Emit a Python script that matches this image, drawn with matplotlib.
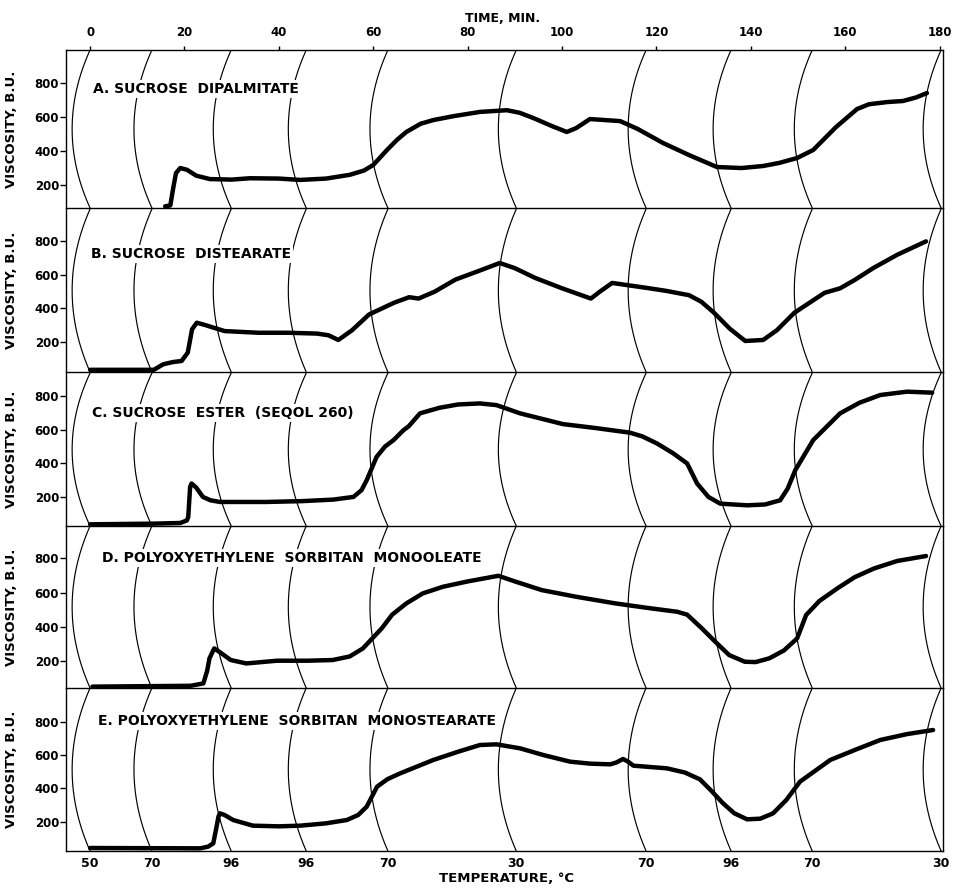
import numpy as np
import matplotlib
matplotlib.use("Agg")
import matplotlib.pyplot as plt

plt.rcParams["font.family"] = ["DejaVu Sans"]
plt.rcParams["font.weight"] = "bold"

# ---------------- data ----------------
TIME_TICKS = [0, 20, 40, 60, 80, 100, 120, 140, 160, 180]
ARC_TIMES = [0, 13.1, 29.9, 45.8, 63.1, 90.3, 117.8, 135.8, 153.0, 180.3]
TEMP_LABELS = ["50", "70", "96", "96", "70", "30", "70", "96", "70", "30"]
VISC_TICKS = [200, 400, 600, 800]

LABELS = [
    "A. SUCROSE  DIPALMITATE",
    "B. SUCROSE  DISTEARATE",
    "C. SUCROSE  ESTER  (SEQOL 260)",
    "D. POLYOXYETHYLENE  SORBITAN  MONOOLEATE",
    "E. POLYOXYETHYLENE  SORBITAN  MONOSTEARATE",
]

A_T = [15.9, 17.0, 17.6, 18.2, 19.1, 20.5, 22.5, 25.4, 30.0, 33.9, 40.0, 44.5, 50.0,
       55.0, 58.0, 60.0, 62.9, 65.0, 67.0, 70.0, 72.7, 77.0, 82.6, 88.3, 91.0, 93.9,
       98.0, 101.0, 103.0, 105.9, 112.3, 116.0, 121.4, 127.0, 132.8, 138.0, 142.6,
       146.0, 149.8, 153.2, 158.0, 162.5, 165.0, 168.9, 172.2, 175.0, 177.3]
A_V = [75, 80, 180, 270, 300, 290, 255, 235, 232, 240, 238, 230, 238,
       260, 285, 318, 406, 465, 512, 560, 582, 605, 630, 640, 625, 594,
       545, 512, 535, 588, 576, 530, 447, 375, 306, 300, 312,
       330, 359, 406, 540, 647, 675, 688, 694, 715, 741]

B_T = [0, 13.5, 15.5, 17.5, 19.4, 20.7, 21.6, 22.6, 24.5, 28.5, 35.7, 42.0, 48.1, 50.5,
       52.6, 55.5, 59.1, 64.4, 67.6, 69.6, 73.0, 77.4, 82.0, 86.8, 90.0, 94.3,
       100.0, 106.1, 108.0, 110.6, 117.8, 122.0, 126.9, 129.5, 132.2, 135.5, 138.8,
       142.6, 145.5, 149.2, 155.6, 158.9, 162.0, 166.0, 171.0, 177.1]
B_V = [34, 34, 67, 80, 87, 137, 275, 315, 300, 265, 255, 255, 250, 240,
       212, 270, 364, 434, 467, 459, 500, 572, 620, 671, 640, 582,
       520, 459, 500, 552, 523, 505, 479, 440, 374, 280, 206,
       212, 270, 374, 493, 520, 570, 642, 720, 800]

C_T = [0, 13.4, 19.1, 20.5, 20.8, 21.2, 21.5, 22.5, 23.9, 25.5, 27.5, 37.4, 45.0, 51.5,
       55.8, 57.5, 58.6, 60.7, 62.5, 64.3, 66.4, 67.5, 69.9, 74.0, 78.0, 82.6, 86.1,
       91.1, 100.2, 107.0, 114.4, 117.0, 120.1, 123.5, 126.5, 128.6, 131.0, 133.5,
       139.2, 143.0, 146.2, 147.8, 149.4, 153.2, 158.9, 163.0, 167.4, 173.1, 178.4]
C_V = [37, 41, 45, 60, 81, 260, 280, 255, 200, 180, 170, 170, 175, 184,
       200, 240, 299, 438, 500, 538, 597, 620, 697, 730, 750, 756, 746,
       697, 633, 610, 582, 560, 518, 460, 399, 280, 200, 160,
       150, 155, 180, 250, 359, 538, 697, 760, 806, 826, 820]

D_T = [0.5, 21.3, 24.0, 24.8, 25.3, 26.3, 27.5, 29.8, 33.1, 39.6, 46.0, 51.4, 55.0,
       57.8, 61.8, 64.0, 67.0, 70.5, 74.8, 80.0, 86.5, 90.0, 95.7, 103.0, 111.3,
       118.0, 124.4, 126.5, 129.6, 132.5, 135.4, 138.7, 141.0, 143.9, 147.0, 149.8,
       151.7, 154.5, 158.3, 162.0, 166.1, 171.0, 177.1]
D_V = [48, 53, 67, 140, 214, 272, 250, 204, 184, 200, 200, 204, 225,
       272, 390, 470, 536, 595, 634, 665, 698, 665, 614, 575, 536,
       510, 487, 470, 390, 310, 233, 194, 192, 214, 260, 331,
       468, 550, 624, 690, 741, 785, 814]

E_T = [0, 23.3, 25.0, 26.1, 26.8, 27.2, 27.5, 28.5, 30.3, 34.5, 40.0, 44.5, 50.0, 54.4,
       56.8, 58.6, 60.8, 63.0, 65.7, 72.7, 78.0, 82.6, 86.1, 91.1, 96.0, 101.7, 106.0,
       110.2, 111.5, 112.9, 114.0, 115.1, 122.2, 126.0, 129.2, 131.8, 134.1, 136.5,
       139.2, 142.0, 144.7, 147.5, 150.4, 156.8, 162.0, 167.4, 173.0, 178.6]
E_V = [42, 40, 50, 70, 170, 230, 250, 240, 210, 176, 172, 176, 190, 210,
       240, 290, 410, 455, 490, 570, 620, 660, 664, 640, 600, 560, 548,
       544, 555, 576, 560, 536, 520, 495, 454, 380, 310, 250,
       214, 218, 250, 330, 440, 570, 630, 690, 725, 750]

CURVES = [(A_T, A_V), (B_T, B_V), (C_T, C_V), (D_T, D_V), (E_T, E_V)]

# per-panel value range and pixel box (top, bottom) in figure pixels
YLIMS = [(65, 994), (21, 993), (27, 937), (40, 990), (24, 1002)]
BOXES = [(50, 208), (209, 372), (373, 526), (526, 688), (688, 851)]
LABEL_POS = [(0.031, 0.753), (0.0285, 0.724), (0.030, 0.739), (0.0405, 0.802), (0.0365, 0.798)]

W, H = 965, 891
X0, X1 = 66, 943
XLIM = (-5.1, 180.7)
BOW = 3.8

fig = plt.figure(figsize=(W / 100, H / 100), dpi=100)
fig.patch.set_facecolor("white")

axes = []
for i, ((top, bot), ylim) in enumerate(zip(BOXES, YLIMS)):
    ax = fig.add_axes([X0 / W, 1 - bot / H, (X1 - X0) / W, (bot - top) / H])
    ax.set_facecolor("none")
    ax.set_xlim(*XLIM)
    ax.set_ylim(*ylim)
    for s in ax.spines.values():
        s.set_linewidth(1.0)
        s.set_color("black")
    if i > 0:
        ax.spines["top"].set_visible(False)

    # curved chart-paper arcs
    yy = np.linspace(ylim[0], ylim[1], 60)
    mid = 0.5 * (ylim[0] + ylim[1])
    half = 0.5 * (ylim[1] - ylim[0])
    for T in ARC_TIMES:
        tt = T - BOW * (1 - ((yy - mid) / half) ** 2)
        ax.plot(tt, yy, color="black", lw=0.85, zorder=1, clip_on=True)

    t, v = CURVES[i]
    ax.plot(t, v, color="black", lw=3.2, solid_joinstyle="round",
            solid_capstyle="round", zorder=3)

    ax.text(LABEL_POS[i][0], LABEL_POS[i][1], LABELS[i], transform=ax.transAxes,
            fontsize=10, fontweight="bold", va="center", ha="left", zorder=4,
            bbox=dict(facecolor="white", edgecolor="none", pad=1.5))

    ax.set_yticks(VISC_TICKS)
    ax.set_yticklabels([str(v) for v in VISC_TICKS], fontsize=8.5, fontweight="bold")
    ax.tick_params(axis="y", direction="out", length=4, width=1, pad=1)
    ax.set_ylabel("VISCOSITY, B.U.", fontsize=9.5, fontweight="bold")
    ax.yaxis.set_label_coords(-0.055, 0.5)

    ax.set_xticks([])
    axes.append(ax)

# top time axis
axA = axes[0]
axA.xaxis.tick_top()
axA.set_xticks(TIME_TICKS)
axA.set_xticklabels([str(v) for v in TIME_TICKS], fontsize=8.5, fontweight="bold")
axA.tick_params(axis="x", direction="out", length=3, width=1, pad=5)

# bottom temperature axis
axE = axes[-1]
axE.set_xticks(ARC_TIMES)
axE.set_xticklabels(TEMP_LABELS, fontsize=9, fontweight="bold")
axE.tick_params(axis="x", direction="out", length=0, pad=4)

fig.text(503 / W, 1 - 18 / H, "TIME, MIN.", fontsize=9, fontweight="bold",
         ha="center", va="center")
fig.text(507 / W, 1 - 879 / H, "TEMPERATURE, °C", fontsize=9.5, fontweight="bold",
         ha="center", va="center")

fig.savefig("out.png", dpi=100, facecolor="white")
